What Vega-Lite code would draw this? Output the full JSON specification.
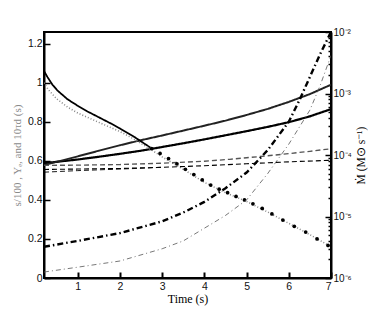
{
  "$schema": "https://vega.github.io/schema/vega-lite/v6.json",
  "width": 287,
  "height": 246,
  "autosize": {"type": "none"},
  "padding": {"left": 44, "top": 32, "right": 44, "bottom": 35},
  "background": "white",
  "config": {
    "view": {"stroke": "black", "strokeWidth": 2},
    "axis": {"labelFont": "Liberation Sans", "labelFontSize": 10.5, "labelColor": "#111", "titleFont": "Liberation Serif", "titleFontSize": 12, "titleFontWeight": "normal", "domainColor": "black", "domainWidth": 2, "tickColor": "black", "grid": false, "zindex": 1}
  },
  "datasets": {
    "left": [
      {"t": 0.2, "v": 0.588, "s": "s_thick"}, {"t": 0.5, "v": 0.595, "s": "s_thick"}, {"t": 1, "v": 0.607, "s": "s_thick"}, {"t": 1.5, "v": 0.621, "s": "s_thick"}, {"t": 2, "v": 0.636, "s": "s_thick"}, {"t": 2.5, "v": 0.652, "s": "s_thick"}, {"t": 3, "v": 0.671, "s": "s_thick"}, {"t": 3.5, "v": 0.69, "s": "s_thick"}, {"t": 4, "v": 0.71, "s": "s_thick"}, {"t": 4.5, "v": 0.731, "s": "s_thick"}, {"t": 5, "v": 0.752, "s": "s_thick"}, {"t": 5.5, "v": 0.774, "s": "s_thick"}, {"t": 6, "v": 0.798, "s": "s_thick"}, {"t": 6.5, "v": 0.828, "s": "s_thick"}, {"t": 7, "v": 0.865, "s": "s_thick"},
      {"t": 0.2, "v": 0.578, "s": "s_thin"}, {"t": 0.5, "v": 0.595, "s": "s_thin"}, {"t": 1, "v": 0.623, "s": "s_thin"}, {"t": 1.5, "v": 0.652, "s": "s_thin"}, {"t": 2, "v": 0.68, "s": "s_thin"}, {"t": 2.5, "v": 0.706, "s": "s_thin"}, {"t": 3, "v": 0.73, "s": "s_thin"}, {"t": 3.5, "v": 0.755, "s": "s_thin"}, {"t": 4, "v": 0.78, "s": "s_thin"}, {"t": 4.5, "v": 0.806, "s": "s_thin"}, {"t": 5, "v": 0.835, "s": "s_thin"}, {"t": 5.5, "v": 0.866, "s": "s_thin"}, {"t": 6, "v": 0.902, "s": "s_thin"}, {"t": 6.5, "v": 0.942, "s": "s_thin"}, {"t": 7, "v": 0.99, "s": "s_thin"},
      {"t": 0.2, "v": 1.06, "s": "tau_solid"}, {"t": 0.28, "v": 1.03, "s": "tau_solid"}, {"t": 0.4, "v": 0.99, "s": "tau_solid"}, {"t": 0.52, "v": 0.96, "s": "tau_solid"}, {"t": 0.76, "v": 0.915, "s": "tau_solid"}, {"t": 1, "v": 0.882, "s": "tau_solid"}, {"t": 1.23, "v": 0.853, "s": "tau_solid"}, {"t": 1.5, "v": 0.823, "s": "tau_solid"}, {"t": 1.78, "v": 0.792, "s": "tau_solid"}, {"t": 2, "v": 0.766, "s": "tau_solid"}, {"t": 2.33, "v": 0.724, "s": "tau_solid"}, {"t": 2.72, "v": 0.668, "s": "tau_solid"},
      {"t": 0.2, "v": 1.0, "s": "tau_thin"}, {"t": 0.3, "v": 0.965, "s": "tau_thin"}, {"t": 0.5, "v": 0.918, "s": "tau_thin"}, {"t": 0.76, "v": 0.875, "s": "tau_thin"}, {"t": 1, "v": 0.845, "s": "tau_thin"}, {"t": 1.5, "v": 0.797, "s": "tau_thin"}, {"t": 2, "v": 0.75, "s": "tau_thin"}, {"t": 2.33, "v": 0.712, "s": "tau_thin"}, {"t": 2.72, "v": 0.66, "s": "tau_thin"}, {"t": 3, "v": 0.62, "s": "tau_thin"}, {"t": 3.5, "v": 0.557, "s": "tau_thin"}, {"t": 4, "v": 0.49, "s": "tau_thin"}, {"t": 4.5, "v": 0.437, "s": "tau_thin"}, {"t": 5, "v": 0.392, "s": "tau_thin"}, {"t": 5.5, "v": 0.338, "s": "tau_thin"}, {"t": 6, "v": 0.28, "s": "tau_thin"}, {"t": 6.5, "v": 0.222, "s": "tau_thin"}, {"t": 7, "v": 0.16, "s": "tau_thin"},
      {"t": 0.2, "v": 0.577, "s": "ye_thin"}, {"t": 1, "v": 0.578, "s": "ye_thin"}, {"t": 2, "v": 0.581, "s": "ye_thin"}, {"t": 3, "v": 0.588, "s": "ye_thin"}, {"t": 4, "v": 0.598, "s": "ye_thin"}, {"t": 4.6, "v": 0.608, "s": "ye_thin"}, {"t": 5, "v": 0.616, "s": "ye_thin"}, {"t": 5.5, "v": 0.626, "s": "ye_thin"}, {"t": 6, "v": 0.637, "s": "ye_thin"}, {"t": 6.5, "v": 0.649, "s": "ye_thin"}, {"t": 7, "v": 0.662, "s": "ye_thin"},
      {"t": 0.2, "v": 0.556, "s": "ye_a"}, {"t": 1, "v": 0.558, "s": "ye_a"}, {"t": 2, "v": 0.561, "s": "ye_a"}, {"t": 3, "v": 0.567, "s": "ye_a"}, {"t": 4, "v": 0.575, "s": "ye_a"}, {"t": 5, "v": 0.585, "s": "ye_a"}, {"t": 6, "v": 0.595, "s": "ye_a"}, {"t": 7, "v": 0.603, "s": "ye_a"},
      {"t": 0.2, "v": 0.542, "s": "ye_b"}, {"t": 0.6, "v": 0.546, "s": "ye_b"}, {"t": 1, "v": 0.55, "s": "ye_b"}, {"t": 1.5, "v": 0.554, "s": "ye_b"}, {"t": 2, "v": 0.558, "s": "ye_b"}, {"t": 2.5, "v": 0.562, "s": "ye_b"}, {"t": 3, "v": 0.567, "s": "ye_b"}
    ],
    "dots": [
      {"t": 2.75, "v": 0.663}, {"t": 2.95, "v": 0.638}, {"t": 3.15, "v": 0.612}, {"t": 3.35, "v": 0.585}, {"t": 3.55, "v": 0.557}, {"t": 3.75, "v": 0.53}, {"t": 3.95, "v": 0.502}, {"t": 4.15, "v": 0.476}, {"t": 4.35, "v": 0.455}, {"t": 4.55, "v": 0.437}, {"t": 4.75, "v": 0.418}, {"t": 4.95, "v": 0.4}, {"t": 5.15, "v": 0.38}, {"t": 5.37, "v": 0.356}, {"t": 5.6, "v": 0.328}, {"t": 5.86, "v": 0.297}, {"t": 6.13, "v": 0.265}, {"t": 6.4, "v": 0.235}, {"t": 6.67, "v": 0.2}, {"t": 6.93, "v": 0.167}
    ],
    "mdot": [
      {"t": 0.2, "m": 3.22e-6, "s": "m_thick"}, {"t": 1, "m": 4.01e-6, "s": "m_thick"}, {"t": 2, "m": 5.37e-6, "s": "m_thick"}, {"t": 3, "m": 8.34e-6, "s": "m_thick"}, {"t": 3.5, "m": 1.16e-5, "s": "m_thick"}, {"t": 4, "m": 1.73e-5, "s": "m_thick"}, {"t": 4.5, "m": 2.88e-5, "s": "m_thick"}, {"t": 5, "m": 5.18e-5, "s": "m_thick"}, {"t": 5.5, "m": 1.2e-4, "s": "m_thick"}, {"t": 6, "m": 3.47e-4, "s": "m_thick"}, {"t": 6.25, "m": 7.74e-4, "s": "m_thick"}, {"t": 6.5, "m": 1.86e-3, "s": "m_thick"}, {"t": 6.75, "m": 4.48e-3, "s": "m_thick"}, {"t": 7, "m": 1.0e-2, "s": "m_thick"},
      {"t": 0.2, "m": 1.25e-6, "s": "m_thin"}, {"t": 1, "m": 1.5e-6, "s": "m_thin"}, {"t": 2, "m": 1.89e-6, "s": "m_thin"}, {"t": 3, "m": 2.99e-6, "s": "m_thin"}, {"t": 3.5, "m": 4.01e-6, "s": "m_thin"}, {"t": 4, "m": 6.45e-6, "s": "m_thin"}, {"t": 4.5, "m": 1.04e-5, "s": "m_thin"}, {"t": 5, "m": 1.86e-5, "s": "m_thin"}, {"t": 5.5, "m": 4.99e-5, "s": "m_thin"}, {"t": 6, "m": 1.5e-4, "s": "m_thin"}, {"t": 6.5, "m": 5.37e-4, "s": "m_thin"}, {"t": 6.75, "m": 1.39e-3, "s": "m_thin"}, {"t": 7, "m": 4.16e-3, "s": "m_thin"}
    ]
  },
  "layer": [
    {
      "layer": [
        {
          "data": {"name": "left"},
          "mark": {"type": "line", "clip": true, "strokeCap": "butt"},
          "encoding": {
            "x": {"field": "t", "type": "quantitative", "scale": {"domain": [0.2, 7], "nice": false, "zero": false},
              "axis": {"orient": "bottom", "title": "Time (s)", "values": [1, 2, 3, 4, 5, 6, 7], "format": "d", "tickSize": -6, "tickWidth": 2, "labelPadding": 9, "titlePadding": 2}},
            "y": {"field": "v", "type": "quantitative", "scale": {"domain": [0, 1.26], "nice": false},
              "axis": {"orient": "left", "title": "s/100 , Yₑ, and 10τd (s)", "titleColor": "#8a8a8a", "titleFontSize": 11,
                "values": [0, 0.05, 0.1, 0.15, 0.2, 0.25, 0.3, 0.35, 0.4, 0.45, 0.5, 0.55, 0.6, 0.65, 0.7, 0.75, 0.8, 0.85, 0.9, 0.95, 1, 1.05, 1.1, 1.15, 1.2, 1.25],
                "format": "~g",
                "labelExpr": "abs(datum.value*5 - round(datum.value*5)) < 0.001 ? datum.label : ''",
                "tickSize": {"condition": {"test": "abs(datum.value*5 - round(datum.value*5)) < 0.001", "value": -6}, "value": -3},
                "tickWidth": 1.5, "labelPadding": 8, "titlePadding": 5}},
            "color": {"field": "s", "type": "nominal", "legend": null,
              "scale": {"domain": ["s_thick", "s_thin", "tau_solid", "tau_thin", "ye_thin", "ye_a", "ye_b"], "range": ["#000000", "#222222", "#000000", "#888888", "#555555", "#000000", "#000000"]}},
            "strokeWidth": {"field": "s", "type": "nominal", "legend": null,
              "scale": {"domain": ["s_thick", "s_thin", "tau_solid", "tau_thin", "ye_thin", "ye_a", "ye_b"], "range": [2.2, 0.9, 2.6, 0.8, 1, 2, 2]}},
            "strokeDash": {"field": "s", "type": "nominal", "legend": null,
              "scale": {"domain": ["s_thick", "s_thin", "tau_solid", "tau_thin", "ye_thin", "ye_a", "ye_b"], "range": [[1, 0], [1, 0], [1, 0], [1, 2], [5, 3], [5, 3], [5, 3]]}}
          }
        },
        {
          "data": {"name": "dots"},
          "mark": {"type": "point", "filled": true, "color": "black", "opacity": 1, "size": 14, "clip": true},
          "encoding": {
            "x": {"field": "t", "type": "quantitative"},
            "y": {"field": "v", "type": "quantitative"}
          }
        }
      ]
    },
    {
      "data": {"name": "mdot"},
      "mark": {"type": "line", "clip": true},
      "encoding": {
        "x": {"field": "t", "type": "quantitative"},
        "y": {"field": "m", "type": "quantitative", "scale": {"type": "log", "domain": [1e-6, 1e-2], "nice": false},
          "axis": {"orient": "right", "title": "Ṁ (M⊙ s⁻¹)", "titleAngle": 270, "titleBaseline": "top", "titleFontSize": 11.5, "labelFontSize": 10,
            "values": [1e-6, 2e-6, 3e-6, 4e-6, 5e-6, 6e-6, 7e-6, 8e-6, 9e-6, 1e-5, 2e-5, 3e-5, 4e-5, 5e-5, 6e-5, 7e-5, 8e-5, 9e-5, 1e-4, 2e-4, 3e-4, 4e-4, 5e-4, 6e-4, 7e-4, 8e-4, 9e-4, 1e-3, 2e-3, 3e-3, 4e-3, 5e-3, 6e-3, 7e-3, 8e-3, 9e-3, 1e-2],
            "labelExpr": "abs(log(datum.value)/LN10 - round(log(datum.value)/LN10)) > 0.001 ? '' : round(log(datum.value)/LN10) == -6 ? '10⁻⁶' : round(log(datum.value)/LN10) == -5 ? '10⁻⁵' : round(log(datum.value)/LN10) == -4 ? '10⁻⁴' : round(log(datum.value)/LN10) == -3 ? '10⁻³' : '10⁻²'",
            "tickSize": {"condition": {"test": "abs(log(datum.value)/LN10 - round(log(datum.value)/LN10)) < 0.001", "value": -6}, "value": -3},
            "tickWidth": 1.5, "labelPadding": 8, "titlePadding": 4}},
        "color": {"field": "s", "type": "nominal", "legend": null,
          "scale": {"domain": ["m_thick", "m_thin"], "range": ["#000000", "#555555"]}},
        "strokeWidth": {"field": "s", "type": "nominal", "legend": null,
          "scale": {"domain": ["m_thick", "m_thin"], "range": [2.4, 0.8]}},
        "strokeDash": {"field": "s", "type": "nominal", "legend": null,
          "scale": {"domain": ["m_thick", "m_thin"], "range": [[6, 3, 1.5, 3], [5, 3, 1, 3]]}}
      }
    }
  ],
  "resolve": {"scale": {"y": "independent", "color": "independent", "strokeWidth": "independent", "strokeDash": "independent"}}
}
